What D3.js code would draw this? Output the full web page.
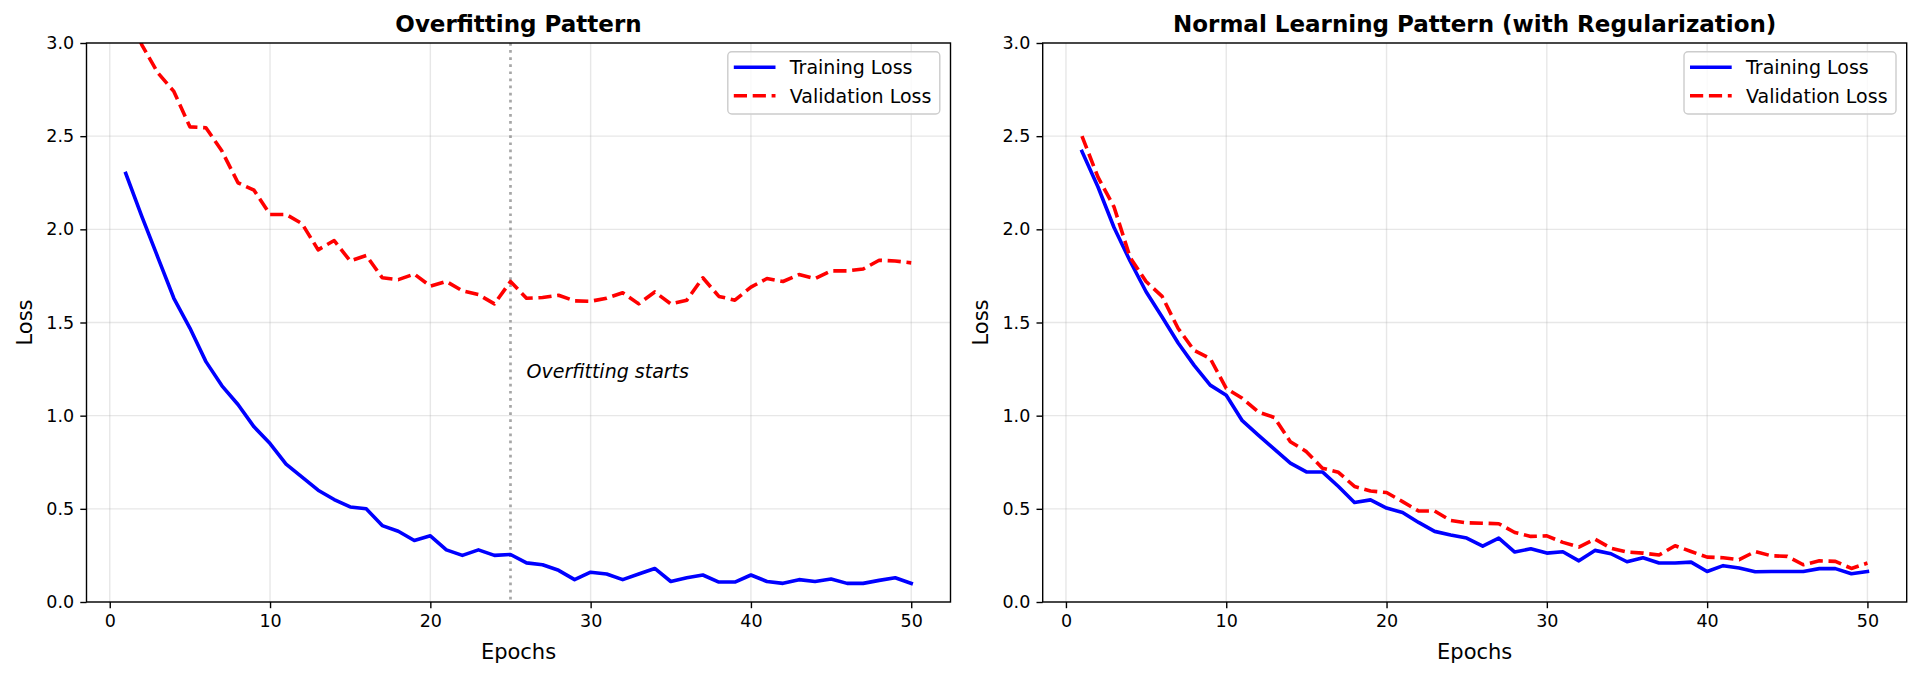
<!DOCTYPE html>
<html>
<head>
<meta charset="utf-8">
<script src="https://cdn.jsdelivr.net/npm/d3@7"></script>
<style>
  html, body { margin: 0; padding: 0; background: #fff; }
  svg { display: block; }
</style>
</head>
<body>
<div id="chart"></div>
<script>
// ---------------- data ----------------
var epochs = [1, 2, 3, 4, 5, 6, 7, 8, 9, 10, 11, 12, 13, 14, 15, 16, 17, 18, 19, 20,
  21, 22, 23, 24, 25, 26, 27, 28, 29, 30, 31, 32, 33, 34, 35, 36, 37, 38, 39, 40,
  41, 42, 43, 44, 45, 46, 47, 48, 49, 50];

var overfitTrain = [2.30, 2.07, 1.85, 1.63, 1.47, 1.29, 1.16, 1.06, 0.94, 0.85,
  0.74, 0.67, 0.60, 0.55, 0.51, 0.50, 0.41, 0.38, 0.33, 0.355,
  0.28, 0.25, 0.28, 0.25, 0.255, 0.21, 0.20, 0.17, 0.12, 0.16,
  0.15, 0.12, 0.15, 0.18, 0.11, 0.13, 0.145, 0.107, 0.107, 0.145,
  0.11, 0.10, 0.12, 0.11, 0.123, 0.10, 0.10, 0.116, 0.13, 0.10];

var overfitVal = [3.20, 2.99, 2.84, 2.74, 2.55, 2.545, 2.42, 2.25, 2.21, 2.08,
  2.08, 2.03, 1.89, 1.94, 1.83, 1.86, 1.74, 1.73, 1.76, 1.695,
  1.72, 1.67, 1.65, 1.60, 1.72, 1.63, 1.634, 1.646, 1.616, 1.614,
  1.63, 1.66, 1.60, 1.664, 1.60, 1.62, 1.74, 1.64, 1.62, 1.69,
  1.736, 1.72, 1.757, 1.736, 1.777, 1.777, 1.787, 1.834, 1.83, 1.82];

var normalTrain = [2.418, 2.227, 2.01, 1.83, 1.665, 1.53, 1.39, 1.27, 1.164, 1.11,
  0.973, 0.896, 0.82, 0.745, 0.698, 0.698, 0.62, 0.534, 0.548, 0.504,
  0.48, 0.427, 0.379, 0.36, 0.343, 0.30, 0.343, 0.268, 0.286, 0.2625,
  0.27, 0.221, 0.277, 0.259, 0.216, 0.2375, 0.209, 0.209, 0.214, 0.164,
  0.195, 0.182, 0.1625, 0.164, 0.164, 0.164, 0.179, 0.179, 0.152, 0.164];

var normalVal = [2.50, 2.28, 2.12, 1.85, 1.72, 1.64, 1.468, 1.35, 1.307, 1.146,
  1.093, 1.02, 0.99, 0.86, 0.807, 0.718, 0.696, 0.62, 0.596, 0.5875,
  0.539, 0.488, 0.488, 0.4375, 0.425, 0.423, 0.42, 0.373, 0.352, 0.355,
  0.32, 0.295, 0.3375, 0.289, 0.268, 0.2625, 0.252, 0.302, 0.271, 0.241,
  0.2375, 0.227, 0.271, 0.248, 0.245, 0.20, 0.221, 0.218, 0.18, 0.209];

var xTicks = [0, 10, 20, 30, 40, 50];
var yTicks = [0, 0.5, 1.0, 1.5, 2.0, 2.5, 3.0];
var seriesNames = ['Training Loss', 'Validation Loss'];
var panelTitles = ['Overfitting Pattern', 'Normal Learning Pattern (with Regularization)'];
var overfitEpoch = 25;
var annotationText = 'Overfitting starts';
var annotationPos = [26, 1.2];

// ---------------- settings ----------------
var attrs = {
  svgWidth: 1920,
  svgHeight: 677,
  font: 'DejaVu Sans',
  textFill: '#000',
  top: 43,
  bottom: 602,
  panelLefts: [86.5, 1042.7],
  panelWidth: 864,
  xDomain: [-1.45, 52.45],
  yDomain: [0, 3],
  tickFont: 17.5,
  labelFont: 21,
  titleFont: 23,
  legendFont: 19,
  gridColor: '#b0b0b0'
};

var svg = d3.select('#chart').append('svg')
  .attr('width', attrs.svgWidth)
  .attr('height', attrs.svgHeight)
  .attr('font-family', attrs.font);

svg.append('rect').attr('width', attrs.svgWidth).attr('height', attrs.svgHeight).attr('fill', '#fff');

function drawPanel(idx, train, val, opts) {
  var left = attrs.panelLefts[idx];
  var right = left + attrs.panelWidth;

  var x = d3.scaleLinear().domain(attrs.xDomain).range([left, right]);
  var y = d3.scaleLinear().domain(attrs.yDomain).range([attrs.bottom, attrs.top]);

  var g = svg.append('g').attr('class', 'panel-' + idx);

  // clip for data lines
  var clipId = 'clip' + idx;
  g.append('clipPath').attr('id', clipId)
    .append('rect')
    .attr('x', left).attr('y', attrs.top)
    .attr('width', right - left).attr('height', attrs.bottom - attrs.top);

  // grid
  g.append('g').selectAll('line').data(xTicks).join('line')
    .attr('x1', d => x(d)).attr('x2', d => x(d))
    .attr('y1', attrs.top).attr('y2', attrs.bottom)
    .attr('stroke', attrs.gridColor).attr('stroke-opacity', 0.3).attr('stroke-width', 1.4);
  g.append('g').selectAll('line').data(yTicks).join('line')
    .attr('x1', left).attr('x2', right)
    .attr('y1', d => y(d)).attr('y2', d => y(d))
    .attr('stroke', attrs.gridColor).attr('stroke-opacity', 0.3).attr('stroke-width', 1.4);

  // axes
  var xAxis = g.append('g')
    .attr('transform', 'translate(0,' + attrs.bottom + ')')
    .call(d3.axisBottom(x).tickValues(xTicks).tickFormat(d3.format('d')).tickSize(6.2).tickPadding(6.2));
  var yAxis = g.append('g')
    .attr('transform', 'translate(' + left + ',0)')
    .call(d3.axisLeft(y).tickValues(yTicks).tickFormat(d3.format('.1f')).tickSize(6.2).tickPadding(6.2));
  [xAxis, yAxis].forEach(function(ax) {
    ax.select('.domain').remove();
    ax.selectAll('.tick line').attr('stroke', '#000').attr('stroke-width', 1.4);
    ax.selectAll('.tick text')
      .attr('fill', attrs.textFill)
      .attr('font-size', attrs.tickFont)
      .attr('font-family', attrs.font);
  });

  var plot = g.append('g').attr('clip-path', 'url(#' + clipId + ')');

  // marker line where overfitting starts
  if (opts.marker) {
    plot.append('line')
      .attr('x1', x(overfitEpoch)).attr('x2', x(overfitEpoch))
      .attr('y1', attrs.top).attr('y2', attrs.bottom)
      .attr('stroke', 'gray').attr('stroke-opacity', 0.7)
      .attr('stroke-width', 2.7).attr('stroke-dasharray', '2.7,4.4');
  }

  var line = d3.line()
    .x((d, i) => x(epochs[i]))
    .y(d => y(d));

  plot.append('path').datum(train)
    .attr('d', line)
    .attr('fill', 'none').attr('stroke', '#0000ff')
    .attr('stroke-width', 3.6).attr('stroke-linejoin', 'round').attr('stroke-linecap', 'square');

  plot.append('path').datum(val)
    .attr('d', line)
    .attr('fill', 'none').attr('stroke', '#ff0000')
    .attr('stroke-width', 3.6).attr('stroke-linejoin', 'round')
    .attr('stroke-dasharray', '13.2,5.7');

  if (opts.marker) {
    g.append('text')
      .attr('x', x(annotationPos[0])).attr('y', y(annotationPos[1]))
      .attr('font-size', 19).attr('font-style', 'italic')
      .attr('fill', attrs.textFill)
      .text(annotationText);
  }

  // spines
  g.append('rect')
    .attr('x', left).attr('y', attrs.top)
    .attr('width', right - left).attr('height', attrs.bottom - attrs.top)
    .attr('fill', 'none').attr('stroke', '#000').attr('stroke-width', 1.4);

  // title and labels
  g.append('text')
    .attr('x', (left + right) / 2).attr('y', 32)
    .attr('text-anchor', 'middle')
    .attr('font-size', attrs.titleFont).attr('font-weight', 'bold')
    .attr('fill', attrs.textFill)
    .text(panelTitles[idx]);

  g.append('text')
    .attr('x', (left + right) / 2).attr('y', 659)
    .attr('text-anchor', 'middle')
    .attr('font-size', attrs.labelFont)
    .attr('fill', attrs.textFill)
    .text('Epochs');

  g.append('text')
    .attr('transform', 'translate(' + (left - 55) + ',' + ((attrs.top + attrs.bottom) / 2) + ') rotate(-90)')
    .attr('text-anchor', 'middle')
    .attr('font-size', attrs.labelFont)
    .attr('fill', attrs.textFill)
    .text('Loss');

  // legend
  var boxW = 212, boxH = 62.3;
  var bx = right - 10.7 - boxW, by = attrs.top + 8.7;
  var lg = g.append('g').attr('class', 'legend');
  lg.append('rect')
    .attr('x', bx).attr('y', by).attr('width', boxW).attr('height', boxH)
    .attr('rx', 4).attr('ry', 4)
    .attr('fill', '#fff').attr('fill-opacity', 0.8)
    .attr('stroke', '#cccccc').attr('stroke-width', 1.4);
  var rows = [
    { name: seriesNames[0], color: '#0000ff', dash: null, dy: 15.6 },
    { name: seriesNames[1], color: '#ff0000', dash: '13.2,5.7', dy: 44 }
  ];
  rows.forEach(function(r) {
    lg.append('line')
      .attr('x1', bx + 6).attr('x2', bx + 47.7)
      .attr('y1', by + r.dy).attr('y2', by + r.dy)
      .attr('stroke', r.color).attr('stroke-width', 3.6)
      .attr('stroke-dasharray', r.dash);
    lg.append('text')
      .attr('x', bx + 62).attr('y', by + r.dy)
      .attr('dy', '0.36em')
      .attr('font-size', attrs.legendFont)
      .attr('fill', attrs.textFill)
      .text(r.name);
  });
}

drawPanel(0, overfitTrain, overfitVal, { marker: true });
drawPanel(1, normalTrain, normalVal, { marker: false });
</script>
</body>
</html>
